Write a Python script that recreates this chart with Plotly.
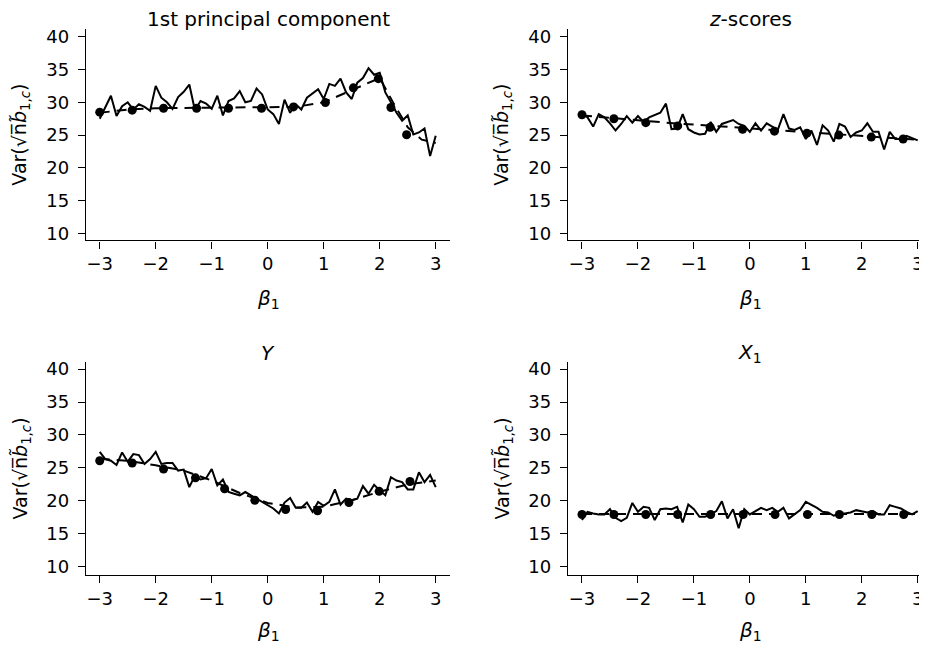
import plotly.graph_objects as go

# ---------------- data ----------------
beta = [round(-3 + 0.1 * i, 1) for i in range(61)]

pc1_solid = [27.5, 29.2, 31.0, 27.9, 29.4, 30.0, 28.9, 29.7, 29.3, 28.7,
             32.5, 30.7, 30.0, 29.0, 30.8, 31.6, 32.7, 28.8, 30.2, 29.8,
             29.0, 31.0, 28.0, 30.2, 30.6, 31.7, 30.0, 30.2, 32.1, 31.2,
             28.9, 28.2, 26.7, 30.4, 28.4, 29.7, 28.9, 30.7, 31.4, 32.0,
             30.5, 32.8, 32.5, 33.6, 31.5, 30.5, 33.0, 33.7, 35.2, 34.2,
             34.5, 31.5, 30.0, 28.4, 27.2, 28.0, 25.1, 25.4, 26.0, 21.8, 24.9]
pc1_dash_x = [-3, -2.5, -2, -1.5, -1, -0.5, 0, 0.5, 1, 1.25, 1.5, 1.75, 2, 2.25, 2.5, 2.75, 3]
pc1_dash_y = [28.4, 28.9, 29.1, 29.15, 29.2, 29.3, 29.3, 29.3, 30.0, 30.9, 31.8, 32.8, 33.7, 29.8, 26.2, 24.3, 23.8]
pc1_dot_x = [-3, -2.42, -1.86, -1.27, -0.70, -0.11, 0.46, 1.03, 1.53, 1.975, 2.20, 2.48]
pc1_dot_y = [28.5, 28.8, 29.1, 29.1, 29.1, 29.1, 29.3, 29.95, 32.2, 33.6, 29.2, 25.05]

zs_solid = [28.4, 27.7, 26.3, 28.2, 27.7, 26.8, 25.7, 26.7, 27.9, 26.9,
            27.9, 27.0, 27.7, 28.0, 28.4, 29.8, 25.9, 26.0, 28.2, 25.9,
            25.4, 25.1, 25.2, 27.0, 25.5, 26.7, 27.0, 27.3, 26.7, 26.4,
            25.5, 26.8, 25.7, 26.8, 26.3, 25.8, 28.2, 26.0, 25.8, 26.2,
            24.4, 25.7, 23.5, 26.5, 25.7, 24.0, 26.7, 26.3, 24.7, 25.4,
            25.7, 26.8, 25.5, 25.5, 22.8, 25.5, 24.4, 24.4, 24.9, 24.5, 24.2]
zs_dash_x = [-3, -2.5, -2, -1.5, -1, -0.5, 0, 0.5, 1, 1.5, 2, 2.5, 3]
zs_dash_y = [28.0, 27.6, 27.2, 26.9, 26.6, 26.3, 26.0, 25.7, 25.4, 25.1, 24.8, 24.5, 24.3]
zs_dot_x = [-3, -2.43, -1.86, -1.29, -0.71, -0.13, 0.44, 1.02, 1.59, 2.17, 2.74]
zs_dot_y = [28.1, 27.5, 26.9, 26.4, 26.2, 25.9, 25.6, 25.3, 25.0, 24.7, 24.4]

y_solid = [27.45, 26.35, 26.1, 25.45, 27.35, 25.95, 27.1, 26.95, 25.6, 26.35,
           27.45, 25.6, 25.75, 25.75, 24.6, 24.75, 22.1, 23.85, 23.25, 23.45,
           24.85, 22.35, 23.25, 21.35, 21.1, 20.85, 21.35, 20.85, 20.35, 19.75,
           19.35, 18.85, 18.1, 19.75, 20.45, 18.95, 18.95, 19.75, 18.35, 19.85,
           19.25, 19.85, 21.75, 19.45, 20.35, 20.1, 20.35, 22.25, 21.1, 22.45,
           21.6, 20.85, 23.6, 23.1, 22.85, 21.75, 21.75, 24.35, 22.85, 23.95, 22.1]
y_dash_x = [-3, -2.5, -2, -1.5, -1, -0.5, 0, 0.5, 1, 1.5, 2, 2.5, 3]
y_dash_y = [26.4, 26.1, 25.4, 24.6, 23.1, 21.2, 19.7, 19.0, 19.1, 20.1, 21.4, 22.5, 23.1]
y_dot_x = [-3, -2.42, -1.86, -1.29, -0.77, -0.23, 0.32, 0.89, 1.45, 1.99, 2.54]
y_dot_y = [26.1, 25.75, 24.85, 23.5, 21.85, 20.1, 18.7, 18.5, 19.75, 21.45, 22.95]

x1_solid = [17.1, 18.35, 18.1, 17.95, 17.95, 18.75, 17.45, 16.95, 17.45, 19.7,
            18.35, 19.1, 18.95, 17.1, 18.75, 18.85, 18.75, 19.1, 16.75, 19.45,
            18.75, 17.6, 17.6, 17.95, 18.45, 19.95, 17.35, 18.75, 15.85, 18.75,
            17.95, 18.45, 18.95, 18.6, 18.95, 18.35, 18.95, 17.35, 17.95, 18.6,
            19.85, 19.45, 18.95, 18.35, 18.25, 17.75, 18.1, 18.1, 18.25, 18.6,
            18.45, 18.25, 18.45, 17.95, 17.95, 19.35, 19.1, 18.85, 18.35, 17.95, 18.45]
x1_dash_x = [-3, -2, -1, 0, 1, 2, 3]
x1_dash_y = [18.0, 18.0, 18.0, 18.0, 18.0, 18.0, 18.0]
x1_dot_x = [-3, -2.43, -1.86, -1.29, -0.70, -0.12, 0.45, 1.03, 1.60, 2.18, 2.75]
x1_dot_y = [17.95, 17.95, 17.95, 17.95, 17.95, 17.95, 17.95, 17.95, 17.95, 17.95, 17.95]

titles = ["1st principal component", "<i>z</i>-scores", "<i>Y</i>", "<i>X</i><sub>1</sub>"]
y_ticks = [10, 15, 20, 25, 30, 35, 40]
x_ticks = [-3, -2, -1, 0, 1, 2, 3]
x_tick_text = ["\u22123", "\u22122", "\u22121", "0", "1", "2", "3"]

# ---------------- layout ----------------
OFF = 8                      # default page body margin
W, H = 927 - OFF, 648 - OFF
FONT = "DejaVu Sans"

panels = [
    dict(sol=pc1_solid, dx=pc1_dash_x, dy=pc1_dash_y, px=pc1_dot_x, py=pc1_dot_y),
    dict(sol=zs_solid, dx=zs_dash_x, dy=zs_dash_y, px=zs_dot_x, py=zs_dot_y),
    dict(sol=y_solid, dx=y_dash_x, dy=y_dash_y, px=y_dot_x, py=y_dot_y),
    dict(sol=x1_solid, dx=x1_dash_x, dy=x1_dash_y, px=x1_dot_x, py=x1_dot_y),
]

# pixel boxes in window coordinates (left, right, top, bottom)
boxes = [(86, 450, 25, 239), (568, 927, 25, 239), (86, 450, 362, 577), (568, 927, 362, 577)]
xranges = [[-3.245, 3.255], [-3.25, 3.166], [-3.245, 3.255], [-3.25, 3.166]]
yranges = [[8.94, 41.2], [8.94, 41.2], [8.8, 41.05], [8.8, 41.05]]


def px(x):
    return (x - OFF) / W


def py(y):
    return 1 - (y - OFF) / H


fig = go.Figure()
layout = dict(width=W, height=H, margin=dict(l=0, r=0, t=0, b=0),
              paper_bgcolor="white", plot_bgcolor="white", showlegend=False,
              font=dict(family=FONT, color="black"))
annotations = []

ylab = "Var(\u221an\u0305<i>b\u0303</i><sub>1,<i>c</i></sub>)"

for i, (p, box) in enumerate(zip(panels, boxes)):
    n = "" if i == 0 else str(i + 1)
    xa, ya = "x" + n, "y" + n
    fig.add_trace(go.Scatter(x=p["dx"], y=p["dy"], mode="lines", xaxis=xa, yaxis=ya,
                             line=dict(color="black", width=2, dash="10px,7px")))
    fig.add_trace(go.Scatter(x=beta, y=p["sol"], mode="lines", xaxis=xa, yaxis=ya,
                             line=dict(color="black", width=2)))
    fig.add_trace(go.Scatter(x=p["px"], y=p["py"], mode="markers", xaxis=xa, yaxis=ya,
                             marker=dict(color="black", size=9)))
    l, r, t, b = box
    common = dict(showgrid=False, zeroline=False, showline=True, linecolor="black",
                  linewidth=1.3, ticks="outside", ticklen=7, tickwidth=1.3,
                  tickcolor="black", tickfont=dict(family=FONT, size=18, color="black"))
    layout["xaxis" + n] = dict(domain=[px(l), min(px(r), 1.0)], range=xranges[i], anchor=ya,
                               tickvals=x_ticks, ticktext=x_tick_text,
                               ticklabeloverflow="allow", **common)
    layout["yaxis" + n] = dict(domain=[py(b), py(t)], range=yranges[i], anchor=xa,
                               tickvals=y_ticks, ticklabelstandoff=5, **common)
    cx = 268 if i % 2 == 0 else 750
    annotations.append(dict(text=titles[i], xref="paper", yref="paper",
                            x=px(cx), y=py(15 if i < 2 else 353),
                            showarrow=False, xanchor="center", yanchor="middle",
                            font=dict(family=FONT, size=20, color="black")))
    annotations.append(dict(text="<i>\u03b2</i><sub>1</sub>", xref="paper", yref="paper",
                            x=px(cx), y=py(298 if i < 2 else 634),
                            showarrow=False, xanchor="center", yanchor="middle",
                            font=dict(family=FONT, size=20, color="black")))
    annotations.append(dict(text=ylab, xref="paper", yref="paper", textangle=-90,
                            x=px(21 if i % 2 == 0 else 503), y=py((t + b) / 2),
                            showarrow=False, xanchor="center", yanchor="middle",
                            font=dict(family=FONT, size=19, color="black")))

layout["annotations"] = annotations
fig.update_layout(**layout)
fig.write_html("out.html")
